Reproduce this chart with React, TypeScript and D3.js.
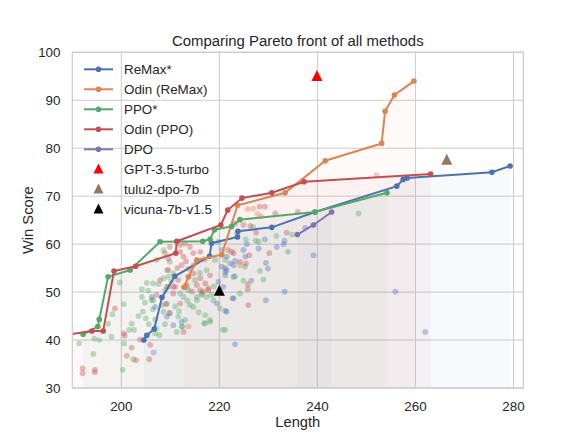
import React from 'react';
import * as d3 from 'd3';

type Pt = [number, number];

// Pareto fronts, [length, win score]
const remaxFront: Pt[] = [
  [204.6, 40.0], [205.2, 41.0], [206.7, 42.3], [208.3, 48.9], [210.9, 53.3],
  [218.0, 57.5], [218.4, 60.2], [223.7, 61.5], [223.8, 62.7], [230.7, 63.5],
  [239.5, 66.7], [256.2, 72.1], [257.5, 73.5], [258.3, 73.8], [275.6, 75.0],
  [279.3, 76.3],
];
const odinRemaxFront: Pt[] = [
  [212.8, 51.0], [213.7, 53.2], [215.4, 56.7], [220.5, 57.8], [223.7, 68.1],
  [233.4, 70.7], [241.6, 77.4], [253.1, 81.0], [253.8, 87.7], [255.7, 91.1],
  [259.7, 94.0],
];
const ppoFront: Pt[] = [
  [192.2, 41.2], [195.2, 42.8], [195.5, 44.3], [197.3, 53.2], [201.8, 54.6],
  [207.9, 60.5], [216.6, 60.6], [218.1, 61.0], [219.0, 63.0], [222.5, 63.7],
  [224.2, 65.1], [239.5, 66.7], [254.2, 70.7],
];
const odinPpoFront: Pt[] = [
  [189.5, 41.2], [194.0, 41.9], [196.3, 41.9], [198.5, 54.4], [202.9, 55.4],
  [211.1, 58.1], [211.3, 60.6], [220.3, 64.0], [221.7, 67.1], [224.6, 69.6],
  [230.7, 70.7], [237.3, 73.0], [263.1, 74.6],
];
const dpoFront: Pt[] = [[235.9, 62.0], [239.2, 64.0], [242.9, 66.7]];

// single models
const gpt35: Pt = [239.9, 95.0];
const tulu2: Pt = [266.4, 77.5];
const vicuna: Pt = [220.0, 50.2];

// all evaluated checkpoints
const scatterGreen: Pt[] = [
  [191.4, 39.3], [194.5, 40.3], [195.5, 40.0], [194.3, 37.1], [198.0, 40.7], [197.3, 43.4],
  [198.2, 45.4], [199.7, 52.0], [200.5, 47.5], [202.1, 43.4], [201.6, 42.1], [200.6, 39.3],
  [202.6, 42.1], [203.5, 45.0], [204.2, 50.6], [205.2, 51.9], [205.5, 50.3], [204.4, 45.9],
  [204.8, 47.8], [206.2, 48.3], [206.4, 46.4], [207.6, 51.7], [206.9, 44.3], [207.8, 41.0],
  [202.4, 36.0], [200.3, 33.8], [205.0, 44.5], [207.1, 42.4], [205.6, 43.3], [206.9, 41.4],
  [208.9, 43.3], [211.3, 41.7], [212.5, 42.8], [216.9, 43.5], [218.1, 43.8], [220.7, 42.1],
  [209.3, 47.6], [209.9, 45.6], [211.6, 44.9], [211.0, 47.0], [212.3, 42.8], [213.0, 44.2],
  [214.0, 47.3], [215.4, 48.3], [217.1, 45.2], [218.1, 44.2], [217.1, 43.5], [220.1, 46.6],
  [214.7, 46.9], [218.8, 48.3], [216.4, 49.7], [212.7, 49.0], [213.7, 50.4], [208.6, 45.9],
  [209.9, 56.3], [209.3, 54.6], [210.6, 53.9], [208.6, 52.9], [209.6, 51.1], [212.0, 49.7],
  [213.3, 51.1], [215.0, 52.5], [216.4, 49.4], [215.4, 49.0], [217.4, 49.0], [218.4, 49.4],
  [219.1, 56.7], [214.7, 55.6], [217.4, 54.6], [219.8, 60.5], [208.6, 58.8], [207.2, 56.7],
  [209.6, 53.2], [206.5, 51.8], [208.9, 50.4], [206.5, 48.3], [208.2, 47.3], [204.2, 49.0],
  [226.9, 63.6], [231.6, 61.7], [234.8, 62.0], [248.4, 66.4], [234.0, 58.4], [228.0, 60.5],
  [227.4, 60.7], [225.4, 61.0], [225.2, 55.3], [228.3, 54.4], [229.0, 52.6], [224.9, 52.4],
  [223.2, 53.3], [224.2, 49.7], [221.2, 42.1], [221.2, 56.7], [213.5, 48.2], [211.8, 46.0],
  [215.8, 45.8], [210.2, 52.2], [216.0, 54.0], [218.9, 51.2],
];
const scatterRed: Pt[] = [
  [192.1, 34.1], [192.1, 33.1], [194.6, 33.8], [194.6, 33.3], [198.7, 46.6], [200.5, 41.4],
  [200.7, 40.9], [202.1, 38.4], [201.1, 36.7], [203.0, 35.8], [205.7, 36.0], [205.9, 39.0],
  [203.8, 40.1], [209.1, 47.5], [209.8, 45.6], [212.7, 41.7], [212.0, 47.6], [210.6, 49.7],
  [209.3, 51.1], [213.3, 51.5], [216.1, 50.4], [217.8, 50.8], [212.0, 59.8], [213.0, 60.1],
  [214.0, 59.4], [212.0, 58.4], [212.7, 57.4], [214.7, 58.1], [215.4, 56.3], [216.1, 58.4],
  [208.9, 58.1], [209.6, 57.0], [213.7, 54.9], [214.7, 53.9], [216.1, 52.9], [217.1, 51.8],
  [218.1, 53.5], [215.4, 51.5], [211.6, 52.5], [211.0, 51.1], [214.4, 50.1], [216.7, 50.1],
  [217.7, 50.4], [223.2, 64.3], [223.6, 62.2], [222.5, 58.4], [212.3, 55.6], [209.6, 54.6],
  [207.9, 52.5], [210.6, 51.1], [207.2, 49.4], [209.9, 59.4], [228.2, 67.8], [229.3, 67.8],
  [231.4, 66.4], [236.0, 66.7], [224.9, 64.0], [226.3, 63.8], [227.5, 62.4], [233.7, 62.4],
  [230.2, 58.1], [226.1, 57.7], [222.9, 58.1], [224.2, 56.3], [225.4, 56.0], [225.8, 51.6],
  [225.8, 50.6], [225.9, 47.3], [221.8, 58.8], [213.2, 56.4], [217.0, 56.8], [211.4, 55.0],
];
const scatterBlue: Pt[] = [
  [210.6, 43.1], [212.3, 43.8], [209.3, 44.9], [219.5, 47.6], [221.5, 45.9], [222.7, 48.7],
  [223.2, 39.1], [206.9, 46.9], [206.2, 49.0], [221.2, 53.5], [221.5, 54.6], [220.5, 55.3],
  [222.2, 56.0], [221.5, 57.4], [222.9, 53.2], [219.8, 52.1], [220.8, 51.1], [220.5, 58.8],
  [237.5, 63.4], [239.2, 57.7], [233.3, 60.7], [233.1, 60.0], [231.7, 59.4], [229.3, 61.0],
  [228.0, 59.1], [225.6, 60.0], [224.9, 58.8], [225.3, 57.4], [223.2, 56.5], [222.9, 55.6],
  [229.5, 56.1], [229.9, 54.9], [226.5, 52.4], [221.2, 55.0], [221.2, 54.2], [233.3, 50.1],
  [222.9, 48.7], [229.5, 48.3], [221.2, 46.1], [255.9, 50.1], [262.0, 41.7],
];
const scatterOrange: Pt[] = [
  [213.7, 42.8], [225.8, 67.3], [226.9, 67.4], [227.8, 66.3], [228.5, 65.8], [224.2, 55.6],
  [252.1, 74.4],
];
const scatterPurple: Pt[] = [[206.6, 37.4]];

const xTicks = [200, 220, 240, 260, 280];
const yTicks = [30, 40, 50, 60, 70, 80, 90, 100];

const C = {
  blue: '#4c72b0', orange: '#dd8452', green: '#55a868',
  red: '#c44e52', purple: '#8172b3', brown: '#937860',
};

const fronts = [
  { label: 'ReMax*', data: remaxFront, color: C.blue },
  { label: 'Odin (ReMax)', data: odinRemaxFront, color: C.orange },
  { label: 'PPO*', data: ppoFront, color: C.green },
  { label: 'Odin (PPO)', data: odinPpoFront, color: C.red },
  { label: 'DPO', data: dpoFront, color: C.purple },
];
const singles = [
  { label: 'GPT-3.5-turbo', p: gpt35, color: '#ff0000' },
  { label: 'tulu2-dpo-7b', p: tulu2, color: C.brown },
  { label: 'vicuna-7b-v1.5', p: vicuna, color: '#000000' },
];
const clouds = [
  { data: scatterGreen, color: C.green },
  { data: scatterRed, color: C.red },
  { data: scatterBlue, color: C.blue },
  { data: scatterOrange, color: C.orange },
  { data: scatterPurple, color: C.purple },
];

const W = 581, H = 436;
const m = { left: 72.3, right: 523.3, top: 52.3, bottom: 388 };
const font = '"Liberation Sans", Arial, sans-serif';
const ink = '#262626';

const tri = (cx: number, cy: number, s: number) =>
  `M${cx},${cy - s * 0.58}L${cx + s / 2},${cy + s * 0.42}L${cx - s / 2},${cy + s * 0.42}Z`;

export default function App() {
  const x = d3.scaleLinear().domain([190, 282]).range([m.left, m.right]);
  const y = d3.scaleLinear().domain([30, 100]).range([m.bottom, m.top]);
  const line = d3.line<Pt>().x(d => x(d[0])).y(d => y(d[1]));
  const area = d3.area<Pt>().x(d => x(d[0])).y0(y(30)).y1(d => y(d[1]));

  return (
    <svg width={W} height={H} style={{ position: 'absolute', left: 0, top: 0, background: '#fff' }}
      fontFamily={font}>
      <defs>
        <clipPath id="plot">
          <rect x={m.left} y={m.top} width={m.right - m.left} height={m.bottom - m.top} />
        </clipPath>
      </defs>
      {xTicks.map(t => (
        <line key={'gx' + t} x1={x(t)} x2={x(t)} y1={m.top} y2={m.bottom} stroke="#cccccc" strokeWidth={1} />
      ))}
      {yTicks.map(t => (
        <line key={'gy' + t} x1={m.left} x2={m.right} y1={y(t)} y2={y(t)} stroke="#cccccc" strokeWidth={1} />
      ))}
      <g clipPath="url(#plot)">
        {fronts.map(f => (
          <path key={'a' + f.label} d={area(f.data) || ''} fill={f.color} fillOpacity={0.045} />
        ))}
        {clouds.map((c, i) => (
          <g key={'c' + i}>
            {c.data.map((d, j) => (
              <circle key={j} cx={x(d[0])} cy={y(d[1])} r={2.9} fill={c.color} fillOpacity={0.38} />
            ))}
          </g>
        ))}
        {fronts.map(f => (
          <g key={'l' + f.label}>
            <path d={line(f.data) || ''} fill="none" stroke={f.color} strokeWidth={2} />
            {f.data.map((d, j) => (
              <circle key={j} cx={x(d[0])} cy={y(d[1])} r={2.8} fill={f.color} />
            ))}
          </g>
        ))}
        {singles.map(s => (
          <path key={'s' + s.label} d={tri(x(s.p[0]), y(s.p[1]), 11)} fill={s.color} />
        ))}
      </g>
      <rect x={m.left} y={m.top} width={m.right - m.left} height={m.bottom - m.top}
        fill="none" stroke="#cccccc" strokeWidth={1.25} />
      {xTicks.map(t => (
        <text key={'tx' + t} x={x(t)} y={410.5} textAnchor="middle" fontSize={13.4} fill={ink}>{t}</text>
      ))}
      {yTicks.map(t => (
        <text key={'ty' + t} x={60.5} y={y(t) + 4.8} textAnchor="end" fontSize={13.4} fill={ink}>{t}</text>
      ))}
      <text x={(m.left + m.right) / 2} y={427} textAnchor="middle" fontSize={14.7} fill={ink}>Length</text>
      <text transform={`translate(33,${(m.top + m.bottom) / 2}) rotate(-90)`} textAnchor="middle"
        fontSize={14.7} fill={ink}>Win Score</text>
      <text x={(m.left + m.right) / 2} y={45.5} textAnchor="middle" fontSize={14.9} fill={ink}>
        Comparing Pareto front of all methods
      </text>
      <g>
        {fronts.map((f, i) => {
          const cy = 69.3 + i * 20;
          return (
            <g key={'lg' + f.label}>
              <line x1={84} x2={113} y1={cy} y2={cy} stroke={f.color} strokeWidth={2} />
              <circle cx={98.5} cy={cy} r={2.8} fill={f.color} />
              <text x={124} y={cy + 4.8} fontSize={13.4} fill={ink}>{f.label}</text>
            </g>
          );
        })}
        {singles.map((s, i) => {
          const cy = 69.3 + (i + 5) * 20;
          return (
            <g key={'ls' + s.label}>
              <path d={tri(98.5, cy, 10)} fill={s.color} />
              <text x={124} y={cy + 4.8} fontSize={13.4} fill={ink}>{s.label}</text>
            </g>
          );
        })}
      </g>
    </svg>
  );
}
